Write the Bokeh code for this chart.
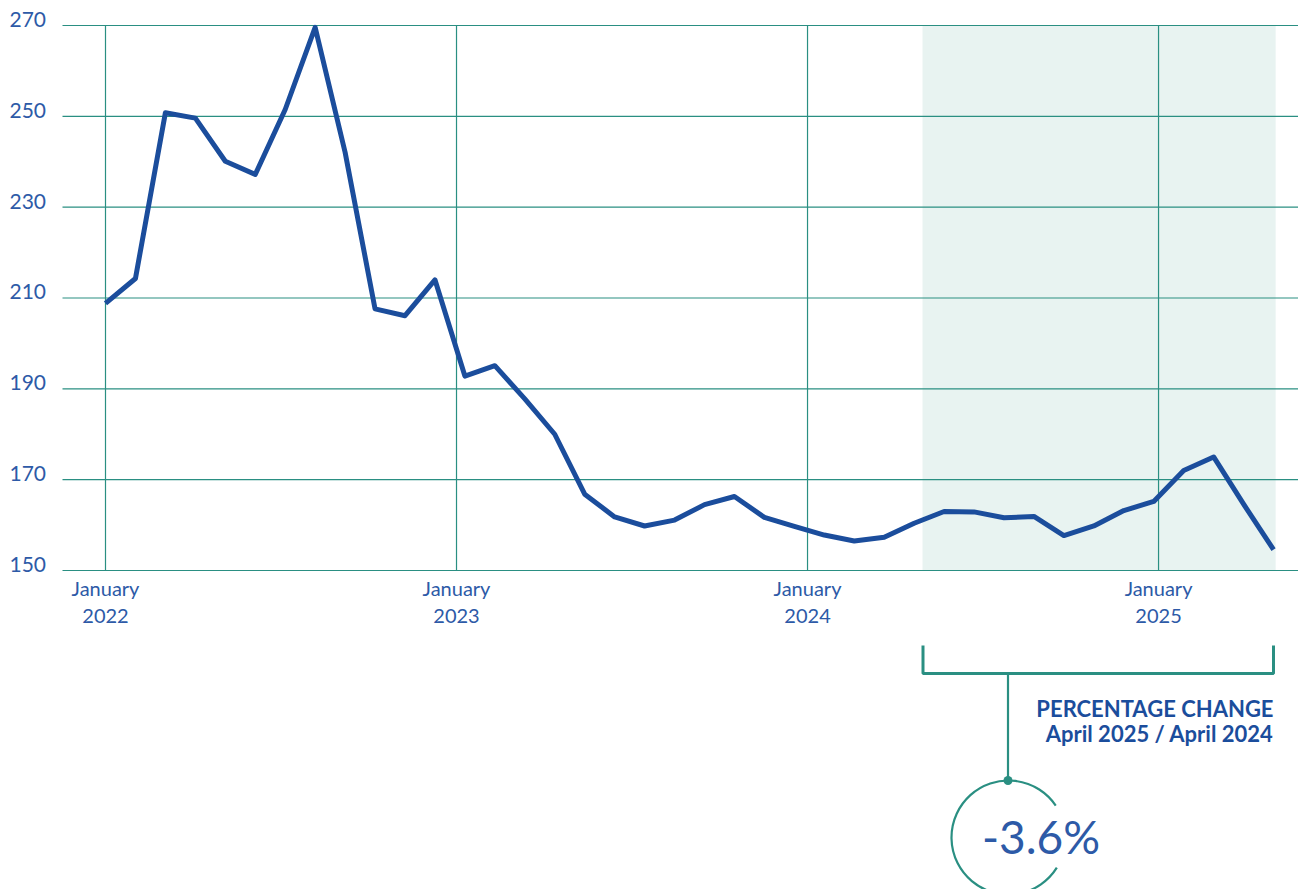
from bokeh.plotting import figure
from bokeh.models import Range1d, BoxAnnotation
from bokeh.core.properties import value
from bokeh.embed import file_html
from bokeh.resources import INLINE
import math

# ---------------- data ----------------
months = list(range(40))  # Jan 2022 .. Apr 2025 (month index)
values = [208.8, 214.3, 250.8, 249.6, 240.1, 237.2, 251.5, 269.6, 242.1, 207.6,
          206.1, 214.0, 192.8, 195.1, 187.8, 180.0, 166.8, 161.8, 159.8, 161.1,
          164.5, 166.3, 161.7, 159.7, 157.8, 156.5, 157.3, 160.4, 163.0, 162.9,
          161.6, 161.9, 157.7, 159.8, 163.2, 165.2, 172.0, 175.0, 164.6, 154.6]
y_ticks = [150, 170, 190, 210, 230, 250, 270]
y_tick_labels = ["150", "170", "190", "210", "230", "250", "270"]
x_ticks = [0.0, 11.72, 23.44, 35.16]
x_tick_month = ["January", "January", "January", "January"]
x_tick_year = ["2022", "2023", "2024", "2025"]
highlight_start = 27.28   # April 2024
highlight_end = 39.07     # April 2025
pct_change_label = "-3.6%"
pct_title = "PERCENTAGE CHANGE"
pct_subtitle = "April 2025 / April 2024"

# ---------------- geometry ----------------
W, H = 1298, 889
X0_PX = 105.0
PX_PER_MONTH = 29.95
Y150_PX = 570.0
PX_PER_UNIT = 4.5417

def dx(px):
    return (px - X0_PX) / PX_PER_MONTH

def dy(py):
    return 150 + (Y150_PX - py) / PX_PER_UNIT

LINE_BLUE = "#1b4d9c"
TEXT_BLUE = "#2d5aa7"
TEAL = "#2a8f82"
SHADE = "#e8f3f1"

p = figure(width=W, height=H, output_backend="svg", toolbar_location=None,
           x_range=Range1d(dx(0), dx(W)), y_range=Range1d(dy(H), dy(0)),
           x_axis_type=None, y_axis_type=None, min_border=0)
p.min_border_left = p.min_border_right = p.min_border_top = p.min_border_bottom = 0
p.outline_line_color = None
p.xgrid.visible = False
p.ygrid.visible = False
p.background_fill_color = "white"
p.border_fill_color = "white"

# highlighted period
p.add_layout(BoxAnnotation(left=highlight_start, right=highlight_end,
                           bottom=y_ticks[0], top=y_ticks[-1],
                           fill_color=SHADE, fill_alpha=1.0, line_color=None,
                           level="underlay"))

# gridlines
p.segment(x0=[dx(62)] * len(y_ticks), y0=y_ticks, x1=[dx(W + 5)] * len(y_ticks), y1=y_ticks,
          line_color=TEAL, line_width=1.2)
p.segment(x0=x_ticks, y0=[y_ticks[0]] * len(x_ticks), x1=x_ticks, y1=[y_ticks[-1]] * len(x_ticks),
          line_color=TEAL, line_width=1.2)

# y tick labels
p.text(x=[dx(9)] * len(y_ticks), y=y_ticks, text=y_tick_labels,
       text_font=value("Lato"), text_font_size="21px", text_color=TEXT_BLUE,
       text_align="left", text_baseline="alphabetic", y_offset=-6)

# x tick labels
p.text(x=x_ticks, y=[dy(587)] * len(x_ticks), text=x_tick_month,
       text_font=value("Lato"), text_font_size="20px", text_color=TEXT_BLUE,
       text_align="center", text_baseline="alphabetic")
p.text(x=x_ticks, y=[dy(615)] * len(x_ticks), text=x_tick_year,
       text_font=value("Lato"), text_font_size="20px", text_color=TEXT_BLUE,
       text_align="center", text_baseline="alphabetic")

# data line
p.line(months, values, line_color=LINE_BLUE, line_width=5, line_join="round")

# bracket
bl, br = dx(922.5), dx(1273)
btop, bbot = dy(645), dy(673)
p.line([bl, bl, br, br], [btop, bbot, bbot, btop], line_color=TEAL, line_width=3)
stem_x = dx(1007.5)
p.segment(x0=[stem_x], y0=[bbot], x1=[stem_x], y1=[dy(780)], line_color=TEAL, line_width=2.2)
p.scatter(x=[stem_x], y=[dy(780)], size=9, fill_color=TEAL, line_color=None)
p.arc(x=[dx(1008)], y=[dy(837)], radius=57, radius_units="screen",
      start_angle=math.radians(34), end_angle=math.radians(328),
      line_color=TEAL, line_width=2.2)

# annotation texts
p.text(x=[dx(1273)], y=[dy(708)], text=[pct_title],
       text_font=value("Lato"), text_font_style="bold", text_font_size="22px",
       text_color=LINE_BLUE, text_align="right", text_baseline="alphabetic")
p.text(x=[dx(1273)], y=[dy(733)], text=[pct_subtitle],
       text_font=value("Lato"), text_font_style="bold", text_font_size="22px",
       text_color=LINE_BLUE, text_align="right", text_baseline="alphabetic")
p.text(x=[dx(1040.5)], y=[dy(836)], text=[pct_change_label],
       text_font=value("Lato"), text_font_size="46px",
       text_color=TEXT_BLUE, text_align="center", text_baseline="alphabetic")

open("out.html", "w").write(file_html(p, INLINE))
